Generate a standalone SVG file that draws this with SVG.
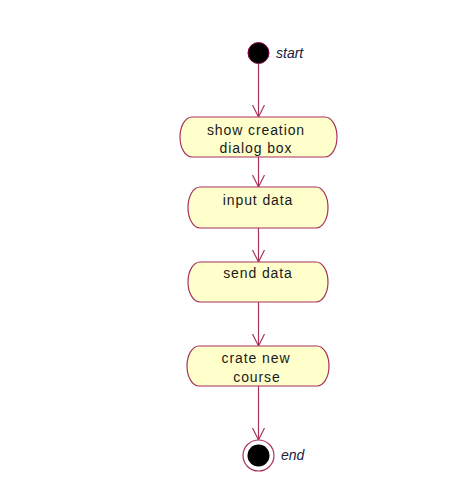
<svg xmlns="http://www.w3.org/2000/svg" width="455" height="502" viewBox="0 0 455 502">
<defs>
<style>
.act{fill:#FFFFCC;stroke:#A8325E;stroke-width:1.2}
.lbl{font-family:"Liberation Sans",Arial,sans-serif;font-size:14px;letter-spacing:0.9px;fill:#1a1a1a;text-anchor:middle}
.nm{font-family:"Liberation Sans",Arial,sans-serif;font-size:14px;font-style:italic;fill:#202040}
.edge{fill:none;stroke:#A8325E;stroke-width:1.2}
</style>
<marker id="arr" markerWidth="14" markerHeight="14" refX="12" refY="6" orient="auto" markerUnits="userSpaceOnUse">
<path d="M0,0 L12,6 L0,12" fill="none" stroke="#A8325E" stroke-width="1.2"/>
</marker>
</defs>
<rect width="455" height="502" fill="#ffffff"/>
<g id="connectors">
<line class="edge" x1="258.5" y1="64" x2="258.5" y2="117" marker-end="url(#arr)"/>
<line class="edge" x1="258.5" y1="157" x2="258.5" y2="187" marker-end="url(#arr)"/>
<line class="edge" x1="258.5" y1="228" x2="258.5" y2="262" marker-end="url(#arr)"/>
<line class="edge" x1="258.5" y1="302" x2="258.5" y2="346" marker-end="url(#arr)"/>
<line class="edge" x1="258.5" y1="386" x2="258.5" y2="440" marker-end="url(#arr)"/>
</g>
<g id="start">
<circle cx="258.5" cy="53" r="10.5" fill="#000000" stroke="#800040" stroke-width="1"/>
<text class="nm" x="276" y="58">start</text>
</g>
<g id="show-creation-dialog-box">
<path class="act" d="M192,117 H325 A12,20 0 0 1 325,157 H192 A12,20 0 0 1 192,117 Z"/>
<text class="lbl" x="256" y="135">show creation</text>
<text class="lbl" x="256" y="153">dialog box</text>
</g>
<g id="input-data">
<path class="act" d="M200,187 H316 A12,20.5 0 0 1 316,228 H200 A12,20.5 0 0 1 200,187 Z"/>
<text class="lbl" x="258" y="205">input data</text>
</g>
<g id="send-data">
<path class="act" d="M200,262 H316 A12,20 0 0 1 316,302 H200 A12,20 0 0 1 200,262 Z"/>
<text class="lbl" x="258" y="278">send data</text>
</g>
<g id="crate-new-course">
<path class="act" d="M199,346 H317 A12,20 0 0 1 317,386 H199 A12,20 0 0 1 199,346 Z"/>
<text class="lbl" x="256" y="363">crate new</text>
<text class="lbl" x="257" y="382">course</text>
</g>
<g id="end">
<circle cx="258.5" cy="455.5" r="15.5" fill="#ffffff" stroke="#A8325E" stroke-width="1.2"/>
<circle cx="258.5" cy="455.5" r="11" fill="#000000"/>
<text class="nm" x="281" y="460">end</text>
</g>
</svg>
